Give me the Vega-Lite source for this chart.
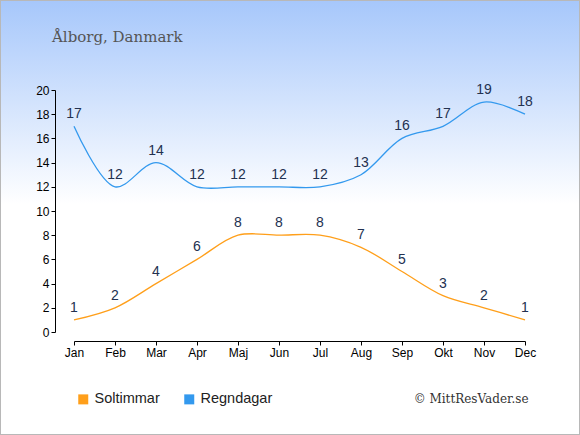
{
  "$schema": "https://vega.github.io/schema/vega-lite/v6.json",
  "title": {
    "text": "Ålborg, Danmark",
    "anchor": "start",
    "frame": "group",
    "orient": "top",
    "dx": 52,
    "offset": -57,
    "baseline": "alphabetic",
    "font": "DejaVu Serif",
    "fontSize": 15,
    "fontWeight": "normal",
    "color": "#555555"
  },
  "autosize": "none",
  "padding": 0,
  "width": 580,
  "height": 435,
  "view": {
    "stroke": "#b8b8b8",
    "strokeWidth": 2,
    "fill": {
      "gradient": "linear",
      "x1": 0, "y1": 0, "x2": 0, "y2": 1,
      "stops": [
        {"offset": 0, "color": "#a6c7fb"},
        {"offset": 0.47, "color": "#ffffff"},
        {"offset": 1, "color": "#ffffff"}
      ]
    }
  },
  "data": {
    "values": [
      {"month": "Jan", "serie": "Soltimmar", "value": 1},
      {"month": "Feb", "serie": "Soltimmar", "value": 2},
      {"month": "Mar", "serie": "Soltimmar", "value": 4},
      {"month": "Apr", "serie": "Soltimmar", "value": 6},
      {"month": "Maj", "serie": "Soltimmar", "value": 8},
      {"month": "Jun", "serie": "Soltimmar", "value": 8},
      {"month": "Jul", "serie": "Soltimmar", "value": 8},
      {"month": "Aug", "serie": "Soltimmar", "value": 7},
      {"month": "Sep", "serie": "Soltimmar", "value": 5},
      {"month": "Okt", "serie": "Soltimmar", "value": 3},
      {"month": "Nov", "serie": "Soltimmar", "value": 2},
      {"month": "Dec", "serie": "Soltimmar", "value": 1},
      {"month": "Jan", "serie": "Regndagar", "value": 17},
      {"month": "Feb", "serie": "Regndagar", "value": 12},
      {"month": "Mar", "serie": "Regndagar", "value": 14},
      {"month": "Apr", "serie": "Regndagar", "value": 12},
      {"month": "Maj", "serie": "Regndagar", "value": 12},
      {"month": "Jun", "serie": "Regndagar", "value": 12},
      {"month": "Jul", "serie": "Regndagar", "value": 12},
      {"month": "Aug", "serie": "Regndagar", "value": 13},
      {"month": "Sep", "serie": "Regndagar", "value": 16},
      {"month": "Okt", "serie": "Regndagar", "value": 17},
      {"month": "Nov", "serie": "Regndagar", "value": 19},
      {"month": "Dec", "serie": "Regndagar", "value": 18}
    ]
  },
  "encoding": {
    "x": {
      "field": "month",
      "type": "ordinal",
      "sort": null,
      "scale": {"type": "point", "padding": 0, "range": [74, 525]},
      "axis": {
        "title": "© MittResVader.se",
        "titleFont": "DejaVu Serif",
        "titleFontSize": 12,
        "titleFontWeight": "normal",
        "titleColor": "#333333",
        "titleAnchor": "end",
        "titleAlign": "right",
        "titleBaseline": "alphabetic",
        "titleX": 528,
        "titleY": 61,
        "offset": -94,
        "labelAngle": 0,
        "labelFont": "Liberation Sans",
        "labelFontSize": 12,
        "labelColor": "#000000",
        "labelPadding": 2,
        "tickSize": 4,
        "tickColor": "#000000",
        "domainColor": "#000000",
        "grid": false
      }
    },
    "y": {
      "field": "value",
      "type": "quantitative",
      "scale": {"domain": [0, 20], "nice": false, "range": [332, 90]},
      "axis": {
        "title": null,
        "values": [0, 2, 4, 6, 8, 10, 12, 14, 16, 18, 20],
        "offset": -55,
        "labelFont": "Liberation Sans",
        "labelFontSize": 12,
        "labelColor": "#000000",
        "labelPadding": 2,
        "tickSize": 4,
        "tickColor": "#000000",
        "domainColor": "#000000",
        "grid": false
      }
    },
    "color": {
      "field": "serie",
      "type": "nominal",
      "sort": ["Soltimmar", "Regndagar"],
      "scale": {"domain": ["Soltimmar", "Regndagar"], "range": ["#ff9f1a", "#3399ee"]},
      "legend": {
        "title": null,
        "orient": "none",
        "direction": "horizontal",
        "legendX": 76,
        "legendY": 392,
        "padding": 0,
        "symbolType": "square",
        "symbolSize": 100,
        "symbolStrokeWidth": 0,
        "symbolOpacity": 1,
        "labelFont": "Liberation Sans",
        "labelFontSize": 14.5,
        "labelColor": "#222222",
        "labelOffset": 4,
        "columnPadding": 22,
        "encode": {
          "symbols": {
            "update": {
              "fill": {"scale": "color", "field": "value"},
              "fillOpacity": {"value": 1}
            }
          }
        }
      }
    }
  },
  "layer": [
    {
      "mark": {"type": "line", "interpolate": "catmull-rom", "strokeWidth": 1.3}
    },
    {
      "mark": {
        "type": "text",
        "dy": -8,
        "baseline": "alphabetic",
        "font": "Liberation Sans",
        "fontSize": 14,
        "color": "#233150"
      },
      "encoding": {
        "text": {"field": "value", "type": "quantitative"},
        "color": {"value": "#233150"}
      }
    }
  ]
}
